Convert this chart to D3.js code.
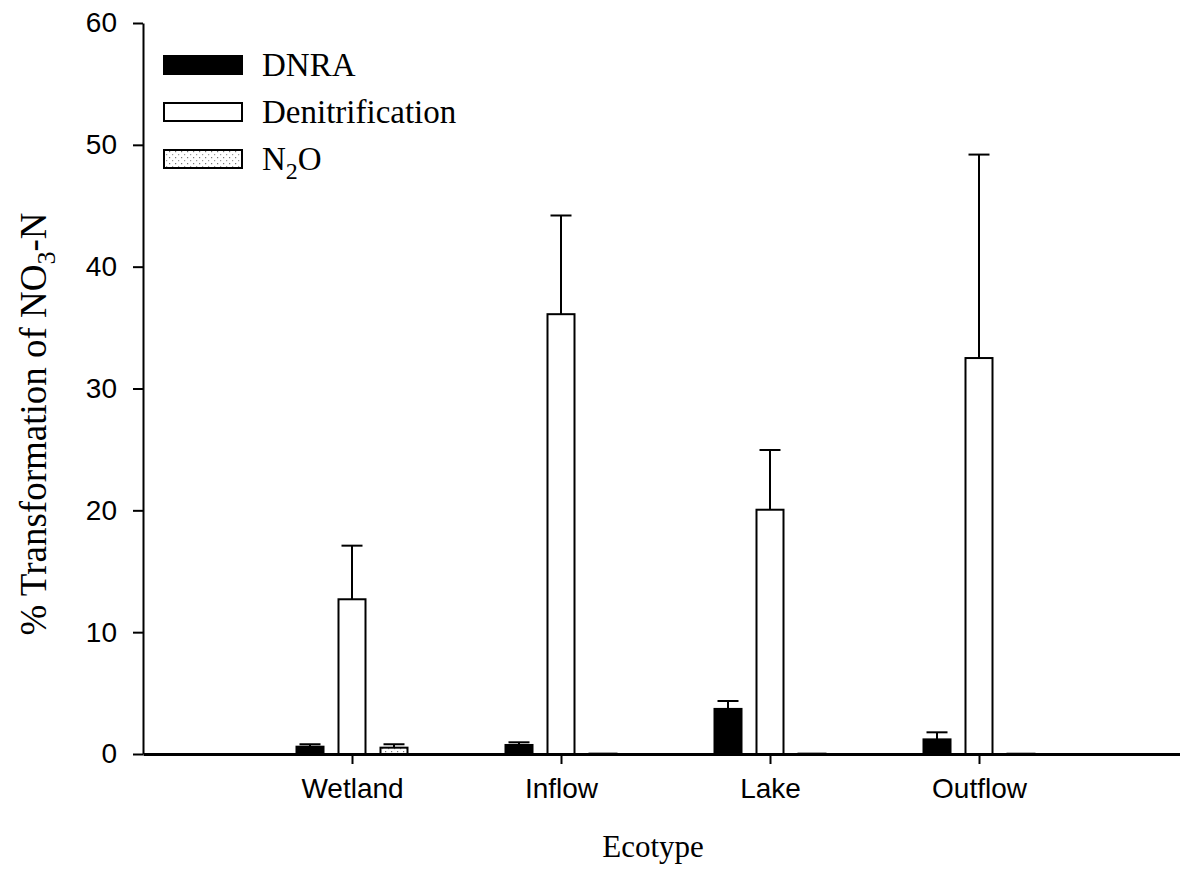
<!DOCTYPE html>
<html>
<head>
<meta charset="utf-8">
<script src="https://cdn.jsdelivr.net/npm/d3@7"></script>
<style>
  html, body { margin: 0; padding: 0; background: #fff; }
  svg { display: block; }
</style>
</head>
<body>
<div id="chart"></div>
<script>
'use strict';

// ── Data ───────────────────────────────────────────────────────────────────
const ecotypes = ['Wetland', 'Inflow', 'Lake', 'Outflow'];
const series   = ['DNRA', 'Denitrification', 'N2O'];

const dnraMean  = [0.6, 0.74, 3.7, 1.2];
const dnraErr   = [0.2, 0.22, 0.65, 0.58];
const denitMean = [12.7, 36.1, 20.05, 32.5];
const denitErr  = [4.4, 8.1, 4.9, 16.7];
const n2oMean   = [0.52, 0.05, 0.05, 0.04];
const n2oErr    = [0.28, 0, 0, 0];

const yTicks = [0, 10, 20, 30, 40, 50, 60];

// ── Layout ─────────────────────────────────────────────────────────────────
const W = 1180, H = 880;
const x0 = 143, xEnd = 1188, yTop = 23, yBot = 754;

const svg = d3.select('#chart').append('svg')
  .attr('width', W).attr('height', H);

const defs = svg.append('defs');
const pat = defs.append('pattern')
  .attr('id', 'dots').attr('patternUnits', 'userSpaceOnUse')
  .attr('width', 6).attr('height', 6);
pat.append('rect').attr('width', 6).attr('height', 6).attr('fill', '#fff');
pat.append('rect').attr('x', 1).attr('y', 1).attr('width', 1.2).attr('height', 1.2).attr('fill', '#777');
pat.append('rect').attr('x', 4).attr('y', 4).attr('width', 1.2).attr('height', 1.2).attr('fill', '#999');

const fills = { 'DNRA': '#000', 'Denitrification': '#fff', 'N2O': 'url(#dots)' };

const x = d3.scaleLinear().domain([0, 5]).range([x0, xEnd]);
const y = d3.scaleLinear().domain([0, 60]).range([yBot, yTop]);
const sub = d3.scaleBand().domain(series).range([-55.5, 55.5])
  .paddingInner(0.357).paddingOuter(0);

const rows = [];
ecotypes.forEach((e, i) => {
  rows.push({ cat: e, idx: i + 1, s: 'DNRA', v: dnraMean[i], err: dnraErr[i] });
  rows.push({ cat: e, idx: i + 1, s: 'Denitrification', v: denitMean[i], err: denitErr[i] });
  rows.push({ cat: e, idx: i + 1, s: 'N2O', v: n2oMean[i], err: n2oErr[i] });
});

// ── Error bars (upper only) ────────────────────────────────────────────────
const eb = svg.append('g').attr('stroke', '#000').attr('stroke-width', 2);
rows.filter(d => d.err > 0).forEach(d => {
  const cx = x(d.idx) + sub(d.s) + sub.bandwidth() / 2;
  eb.append('line').attr('x1', cx).attr('x2', cx)
    .attr('y1', y(d.v)).attr('y2', y(d.v + d.err));
  eb.append('line').attr('x1', cx - 10.5).attr('x2', cx + 10.5)
    .attr('y1', y(d.v + d.err)).attr('y2', y(d.v + d.err));
});

// ── Bars ───────────────────────────────────────────────────────────────────
svg.append('g').selectAll('rect')
  .data(rows)
  .join('rect')
  .attr('x', d => x(d.idx) + sub(d.s))
  .attr('y', d => y(d.v))
  .attr('width', sub.bandwidth())
  .attr('height', d => y(0) - y(d.v))
  .attr('fill', d => fills[d.s])
  .attr('stroke', d => d.v < 0.1 ? '#666' : '#000')
  .attr('stroke-width', 2);

// ── Axes ───────────────────────────────────────────────────────────────────
const sans = 'Liberation Sans, Arial, sans-serif';

const yAxis = svg.append('g')
  .attr('transform', `translate(${x0},0)`)
  .call(d3.axisLeft(y).tickValues(yTicks).tickSize(10).tickPadding(16).tickSizeOuter(0));
yAxis.select('.domain').attr('stroke-width', 2);
yAxis.selectAll('.tick line').attr('stroke-width', 2);
yAxis.selectAll('text')
  .attr('font-family', sans).attr('font-size', '28px').attr('fill', '#000');

const xAxis = svg.append('g')
  .attr('transform', `translate(0,${yBot})`)
  .call(d3.axisBottom(x).tickValues([1, 2, 3, 4])
    .tickFormat(d => ecotypes[d - 1]).tickSize(10).tickPadding(14).tickSizeOuter(0));
xAxis.select('.domain').attr('stroke-width', 3);
xAxis.selectAll('.tick line').attr('stroke-width', 2);
xAxis.selectAll('text')
  .attr('font-family', sans).attr('font-size', '28px').attr('fill', '#000');

// ── Axis titles ────────────────────────────────────────────────────────────
const serif = 'Liberation Serif, Times New Roman, serif';

svg.append('text')
  .attr('x', (x0 + 1163) / 2).attr('y', 857)
  .attr('text-anchor', 'middle')
  .attr('font-family', serif).attr('font-size', '31px')
  .text('Ecotype');

const yt = svg.append('text')
  .attr('transform', `translate(46,424) rotate(-90)`)
  .attr('text-anchor', 'middle')
  .attr('font-family', serif).attr('font-size', '37px');
yt.append('tspan').text('% Transformation of NO');
yt.append('tspan').attr('dy', 9).attr('font-size', '26px').text('3');
yt.append('tspan').attr('dy', -9).text('-N');

// ── Legend ─────────────────────────────────────────────────────────────────
const legendLabels = [['DNRA'], ['Denitrification'], ['N', '2', 'O']];
const legend = svg.append('g');
series.forEach((s, i) => {
  const cy = 65 + i * 47;
  legend.append('rect')
    .attr('x', 164).attr('y', cy - 9).attr('width', 78).attr('height', 18)
    .attr('fill', fills[s]).attr('stroke', '#000').attr('stroke-width', 2);
  const t = legend.append('text')
    .attr('x', 262).attr('y', cy + 11)
    .attr('font-family', serif).attr('font-size', '33px');
  const parts = legendLabels[i];
  t.append('tspan').text(parts[0]);
  if (parts.length > 1) {
    t.append('tspan').attr('dy', 9).attr('font-size', '24px').text(parts[1]);
    t.append('tspan').attr('dy', -9).text(parts[2]);
  }
});
</script>
</body>
</html>
